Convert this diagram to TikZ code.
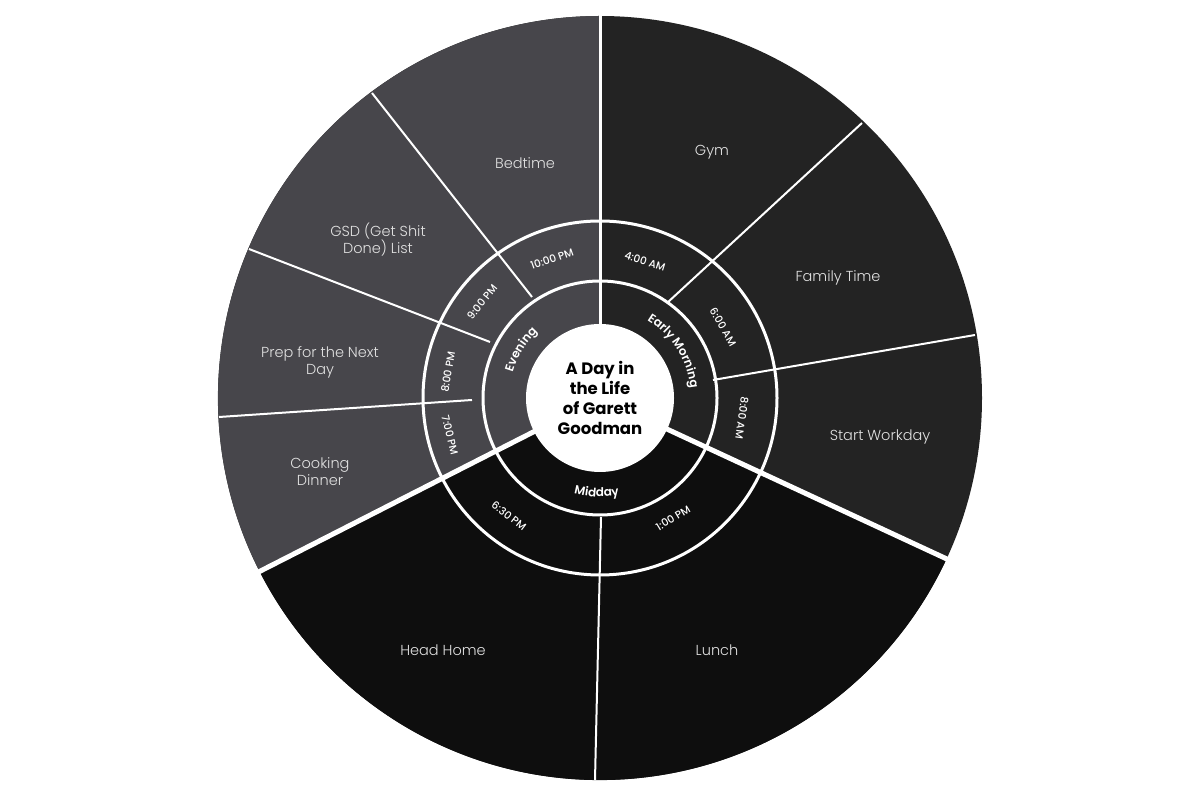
\documentclass[tikz,border=0pt]{standalone}
\usepackage{fontspec}
\setmainfont{Poppins}
\newfontfamily\plight{Poppins Light}
\newfontfamily\pmed{Poppins Medium}
\newfontfamily\psemi{Poppins SemiBold}
\usetikzlibrary{decorations.text}
\definecolor{emc}{HTML}{232323}
\definecolor{mdc}{HTML}{0E0E0E}
\definecolor{evc}{HTML}{47464B}
\definecolor{lbl}{HTML}{E2E2E2}
\begin{document}
\begin{tikzpicture}[x=1pt,y=1pt,
  outerlbl/.style={font=\plight\fontsize{14.5}{17}\selectfont, text=lbl, align=center, inner sep=0pt},
  timelbl/.style={font=\pmed\fontsize{10.5}{12}\selectfont, text=white, inner sep=0pt},
  thinsep/.style={draw=white, line width=2pt},
  thicksep/.style={draw=white, line width=5pt},
  ringline/.style={draw=white, line width=3pt}]
\useasboundingbox (0,0) rectangle (1200,800);
\fill[white] (0,0) rectangle (1200,800);
\coordinate (C) at (600,402);
% sectors
\fill[emc] (C) circle[radius=382];
\fill[mdc] (C) -- ([shift={(-24.9:382)}]C) arc[start angle=-24.9, end angle=-153, radius=382] -- cycle;
\fill[evc] (C) -- ([shift={(207:382)}]C) arc[start angle=207, end angle=90, radius=382] -- cycle;
% separator end points
\coordinate (gfi) at (667,497); \coordinate (gfo) at (862,677);
\coordinate (fsi) at (713,420); \coordinate (fso) at (975,465);
\coordinate (lhi) at (601,283); \coordinate (lho) at (595,20);
\coordinate (cpi) at (472,400); \coordinate (cpo) at (219,383);
\coordinate (pgi) at (490,458); \coordinate (pgo) at (249,551);
\coordinate (gbi) at (532,503); \coordinate (gbo) at (372,707);
\coordinate (emo) at ([shift={(-24.9:386)}]C);
\coordinate (evo) at ([shift={(207:386)}]C);
\coordinate (topo) at ([shift={(90:386)}]C);
% thin separators
\draw[thinsep] (gfi) -- (gfo);
\draw[thinsep] (fsi) -- (fso);
\draw[thinsep] (lhi) -- (lho);
\draw[thinsep] (cpi) -- (cpo);
\draw[thinsep] (pgi) -- (pgo);
\draw[thinsep] (gbi) -- (gbo);
% category separators
\draw[thicksep] (C) -- (emo);
\draw[thicksep] (C) -- (evo);
\draw[white, line width=3pt] (C) -- (topo);
% rings
\draw[ringline] (C) circle[radius=117];
\draw[ringline] (C) circle[radius=177];
\fill[white] (C) circle[radius=74];
% centre title
\node[font=\bfseries\fontsize{16.5}{20}\selectfont, align=center, text=black, inner sep=0pt] (title) at (C) {A Day in\\the Life\\of Garett\\Goodman};
% category labels along arcs
\path[decoration={text along path, text={|\psemi\fontsize{12}{14}\selectfont|Early Morning}, text align=center, text color=white}, decorate]
  ([shift={(72.5:91)}]C) arc[start angle=72.5, end angle=-7.5, radius=91];
\path[decoration={text along path, text={|\psemi\fontsize{12}{14}\selectfont|Evening}, text align=center, text color=white}, decorate]
  ([shift={(183.5:91)}]C) arc[start angle=183.5, end angle=113.5, radius=91];
\path[decoration={text along path, text={|\psemi\fontsize{12}{14}\selectfont|Midday}, text align=center, text color=white}, decorate]
  ([shift={(-127:99)}]C) arc[start angle=-127, end angle=-57, radius=99];
% time labels
\node[timelbl, rotate=-17.6] (t4) at (645,539) {4:00 AM};
\node[timelbl, rotate=-60] (t6) at (723,473) {6:00 AM};
\node[timelbl, rotate=-98] (t8) at (742,382) {8:00 AM};
\node[timelbl, rotate=31.3] (t13) at (673,282) {1:00 PM};
\node[timelbl, rotate=-37.6] (t1830) at (509,284) {6:30 PM};
\node[timelbl, rotate=-76.1] (t19) at (450,365) {7:00 PM};
\node[timelbl, rotate=80.3] (t20) at (448,428) {8:00 PM};
\node[timelbl, rotate=50.9] (t21) at (482,498) {9:00 PM};
\node[timelbl, rotate=19.2] (t22) at (552,541) {10:00 PM};
% activity labels
\node[outerlbl] (gym) at (712,648) {Gym};
\node[outerlbl] (fam) at (838,522) {Family Time};
\node[outerlbl] (work) at (880,363) {Start Workday};
\node[outerlbl] (lunch) at (717,150) {Lunch};
\node[outerlbl] (home) at (443,150) {Head Home};
\node[outerlbl] (cook) at (320,328) {Cooking\\Dinner};
\node[outerlbl] (prep) at (320,438) {Prep for the Next\\Day};
\node[outerlbl] (gsd) at (378,560) {GSD (Get Shit\\Done) List};
\node[outerlbl] (bed) at (525,637) {Bedtime};
\end{tikzpicture}
\end{document}
